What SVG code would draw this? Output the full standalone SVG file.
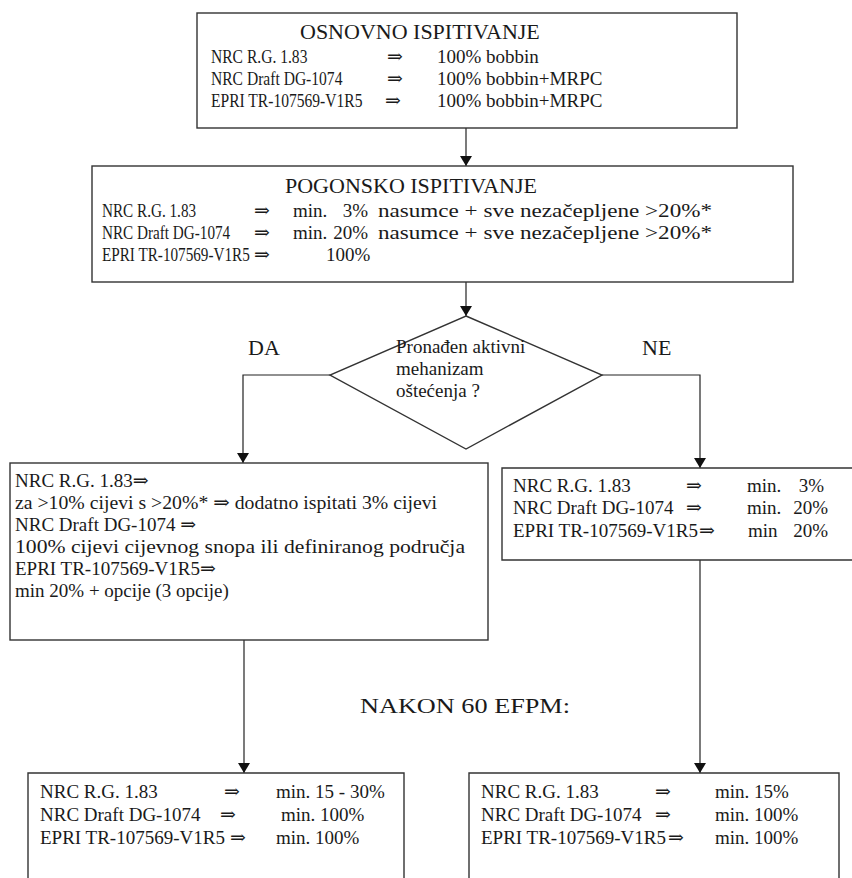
<svg xmlns="http://www.w3.org/2000/svg" width="852" height="878" viewBox="0 0 852 878">
<style>
text{font-family:"Liberation Serif","Times New Roman","DejaVu Serif",serif;fill:#1a1a1a;font-size:19px}
.t{font-size:22px}
.box{fill:none;stroke:#333;stroke-width:1.4}
.con{fill:none;stroke:#222;stroke-width:1.2}
</style>
<defs>
<marker id="ah" markerUnits="userSpaceOnUse" markerWidth="11" markerHeight="12" refX="10" refY="6" orient="auto"><path d="M0,0 L10,6 L0,12 z" fill="#111"/></marker>
</defs>
<rect width="852" height="878" fill="#fff"/>
<g id="connectors">
<path class="con" d="M466,128 V166" marker-end="url(#ah)"/>
<path class="con" d="M466,282 V316" marker-end="url(#ah)"/>
<path class="con" d="M330,375 H243 V463" marker-end="url(#ah)"/>
<path class="con" d="M602,375 H700 V468" marker-end="url(#ah)"/>
<path class="con" d="M244,640 V773" marker-end="url(#ah)"/>
<path class="con" d="M700,560 V773" marker-end="url(#ah)"/>
</g>
<g id="osnovno">
<rect class="box" x="197" y="13" width="540" height="115"/>
<text class="t" x="300" y="39">OSNOVNO ISPITIVANJE</text>
<text transform="translate(211,63) scale(0.82,1)">NRC R.G. 1.83</text><text x="387" y="63">⇒</text><text x="437" y="63">100% bobbin</text>
<text transform="translate(211,85) scale(0.82,1)">NRC Draft DG-1074</text><text x="387" y="85">⇒</text><text x="437" y="85">100% bobbin+MRPC</text>
<text transform="translate(211,107) scale(0.82,1)">EPRI TR-107569-V1R5</text><text x="385" y="107">⇒</text><text x="437" y="107">100% bobbin+MRPC</text>
</g>
<g id="pogonsko">
<rect class="box" x="92" y="166" width="701" height="116"/>
<text class="t" x="285" y="193">POGONSKO ISPITIVANJE</text>
<text transform="translate(102,217) scale(0.8,1)">NRC R.G. 1.83</text><text x="254" y="217">⇒</text><text x="293" y="217">min.</text><text x="368" y="217" text-anchor="end">3%</text><text x="378" y="217" textLength="334" lengthAdjust="spacingAndGlyphs">nasumce + sve nezačepljene &gt;20%*</text>
<text transform="translate(102,239) scale(0.8,1)">NRC Draft DG-1074</text><text x="254" y="239">⇒</text><text x="293" y="239">min.</text><text x="368" y="239" text-anchor="end">20%</text><text x="378" y="239" textLength="334" lengthAdjust="spacingAndGlyphs">nasumce + sve nezačepljene &gt;20%*</text>
<text transform="translate(102,261) scale(0.8,1)">EPRI TR-107569-V1R5</text><text x="254" y="261">⇒</text><text x="326" y="261">100%</text>
</g>
<g id="odluka">
<polygon class="box" points="466,316 602,375 466,449 330,375"/>
<text x="396" y="353">Pronađen aktivni</text>
<text x="396" y="375">mehanizam</text>
<text x="396" y="397">oštećenja ?</text>
</g>
<text class="t" x="248" y="355">DA</text>
<text class="t" x="642" y="355">NE</text>
<g id="da-box">
<rect class="box" x="10" y="463" width="478" height="177"/>
<text x="15" y="487">NRC R.G. 1.83⇒</text>
<text x="15" y="509" textLength="422" lengthAdjust="spacingAndGlyphs">za &gt;10% cijevi s &gt;20%* ⇒ dodatno ispitati 3% cijevi</text>
<text x="15" y="531">NRC Draft DG-1074 ⇒</text>
<text x="15" y="553" textLength="450" lengthAdjust="spacingAndGlyphs">100% cijevi cijevnog snopa ili definiranog područja</text>
<text x="15" y="575">EPRI TR-107569-V1R5⇒</text>
<text x="15" y="597">min 20% + opcije (3 opcije)</text>
</g>
<g id="ne-box">
<path class="box" d="M852,468 H502 V560 H852"/>
<text x="513" y="492">NRC R.G. 1.83</text><text x="686" y="492">⇒</text><text x="747" y="492">min.</text><text x="824" y="492" text-anchor="end">3%</text>
<text x="513" y="514">NRC Draft DG-1074</text><text x="686" y="514">⇒</text><text x="747" y="514">min.</text><text x="828" y="514" text-anchor="end">20%</text>
<text x="513" y="537">EPRI TR-107569-V1R5</text><text x="699" y="537">⇒</text><text x="748" y="537">min</text><text x="828" y="537" text-anchor="end">20%</text>
</g>
<text class="t" x="360" y="713" textLength="210" lengthAdjust="spacingAndGlyphs">NAKON 60 EFPM:</text>
<g id="da-60">
<path class="box" d="M28,878 V773 H404 V878"/>
<text x="40" y="798">NRC R.G. 1.83</text><text x="224" y="798">⇒</text><text x="276" y="798">min. 15 - 30%</text>
<text x="40" y="821">NRC Draft DG-1074</text><text x="220" y="821">⇒</text><text x="281" y="821">min. 100%</text>
<text x="40" y="844">EPRI TR-107569-V1R5</text><text x="230" y="844">⇒</text><text x="276" y="844">min. 100%</text>
</g>
<g id="ne-60">
<path class="box" d="M469,878 V773 H839 V878"/>
<text x="481" y="798">NRC R.G. 1.83</text><text x="655" y="798">⇒</text><text x="715" y="798">min. 15%</text>
<text x="481" y="821">NRC Draft DG-1074</text><text x="655" y="821">⇒</text><text x="715" y="821">min. 100%</text>
<text x="481" y="844">EPRI TR-107569-V1R5</text><text x="668" y="844">⇒</text><text x="715" y="844">min. 100%</text>
</g>
</svg>
